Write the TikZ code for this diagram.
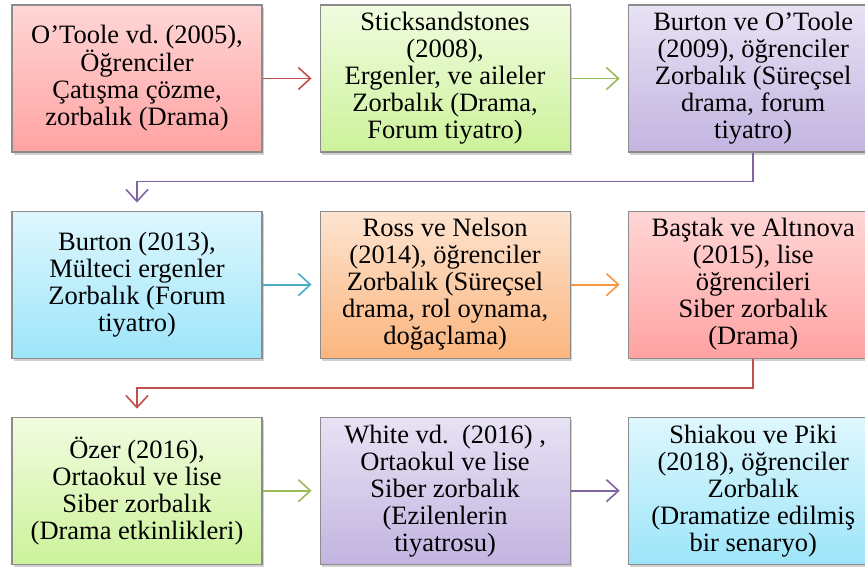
\documentclass[tikz,border=0pt]{standalone}
\usepackage{fontspec}
\IfFontExistsTF{LiberationSerif-Regular.ttf}
  {\newfontfamily\boxfont{LiberationSerif-Regular.ttf}}
  {\newfontfamily\boxfont{Latin Modern Roman}}
\usetikzlibrary{positioning, calc, arrows.meta, shadows}

\definecolor{offred}{HTML}{C0504D}
\definecolor{offgreen}{HTML}{9BBB59}
\definecolor{offpurple}{HTML}{8064A2}
\definecolor{offblue}{HTML}{4BACC6}
\definecolor{offorange}{HTML}{F79646}

\tikzset{
  study/.style={draw=black!45, line width=1.1pt, minimum width=250pt, minimum height=147pt,
    align=center, inner sep=2pt, font=\boxfont\fontsize{26.5}{27}\selectfont,
    drop shadow={shadow xshift=1.5pt, shadow yshift=-3pt, opacity=0.3, fill=black!60}},
  redbox/.style={study, top color={rgb,255:red,255;green,214;blue,214}, bottom color={rgb,255:red,255;green,162;blue,162}},
  greenbox/.style={study, top color={rgb,255:red,241;green,252;blue,224}, bottom color={rgb,255:red,204;green,242;blue,154}},
  purplebox/.style={study, top color={rgb,255:red,232;green,226;blue,244}, bottom color={rgb,255:red,194;green,180;blue,224}},
  bluebox/.style={study, top color={rgb,255:red,222;green,247;blue,253}, bottom color={rgb,255:red,157;green,229;blue,250}},
  orangebox/.style={study, top color={rgb,255:red,253;green,228;blue,208}, bottom color={rgb,255:red,251;green,181;blue,126}},
  flow/.style={line width=1.8pt, shorten >=8pt, -{Straight Barb[length=12pt, width=22pt, line width=1.6pt]}}
}

\begin{document}
\frenchspacing
\begin{tikzpicture}[x=1pt, y=1pt]
        \useasboundingbox (0,0) rectangle (865,-566);
        \clip (0,0) rectangle (865,-566);

        \node[redbox] (otoole) at (137,-78.5) {O’Toole vd. (2005),\\Öğrenciler\\Çatışma çözme,\\zorbalık (Drama)};
        \node[greenbox, right=57pt of otoole] (sticks) {Sticksandstones\\(2008),\\Ergenler, ve aileler\\Zorbalık (Drama,\\Forum tiyatro)};
        \node[purplebox, right=57pt of sticks] (burtontoole) {Burton ve O’Toole\\(2009), öğrenciler\\Zorbalık (Süreçsel\\drama, forum\\tiyatro)};

        \node[bluebox, below=58pt of otoole] (burton) {Burton (2013),\\Mülteci ergenler\\Zorbalık (Forum\\tiyatro)};
        \node[orangebox, right=57pt of burton] (ross) {Ross ve Nelson\\(2014), öğrenciler\\Zorbalık (Süreçsel\\drama, rol oynama,\\doğaçlama)};
        \node[redbox, right=57pt of ross] (bastak) {Baştak ve Altınova\\(2015), lise\\öğrencileri\\Siber zorbalık\\(Drama)};

        \node[greenbox, below=58pt of burton] (ozer) {Özer (2016),\\Ortaokul ve lise\\Siber zorbalık\\(Drama etkinlikleri)};
        \node[purplebox, right=57pt of ozer] (white) {White vd.~~(2016)~,\\Ortaokul ve lise\\Siber zorbalık\\(Ezilenlerin\\tiyatrosu)};
        \node[bluebox, right=57pt of white] (shiakou) {Shiakou ve Piki\\(2018), öğrenciler\\Zorbalık\\(Dramatize edilmiş\\bir senaryo)};

        \draw[flow, offred] (otoole) -- (sticks);
        \draw[flow, offgreen] (sticks) -- (burtontoole);
        \draw[flow, offblue] (burton) -- (ross);
        \draw[flow, offorange] (ross) -- (bastak);
        \draw[flow, offgreen] (ozer) -- (white);
        \draw[flow, offpurple] (white) -- (shiakou);

        % row to row
        \coordinate (k1) at ($(burtontoole.south)!.5!(burton.north)$);
        \draw[flow, offpurple] (burtontoole.south) -- (burtontoole.south|-k1) -| (burton.north);
        \coordinate (k2) at ($(bastak.south)!.5!(ozer.north)$);
        \draw[flow, offred] (bastak.south) -- (bastak.south|-k2) -| (ozer.north);
    \end{tikzpicture}
\end{document}
